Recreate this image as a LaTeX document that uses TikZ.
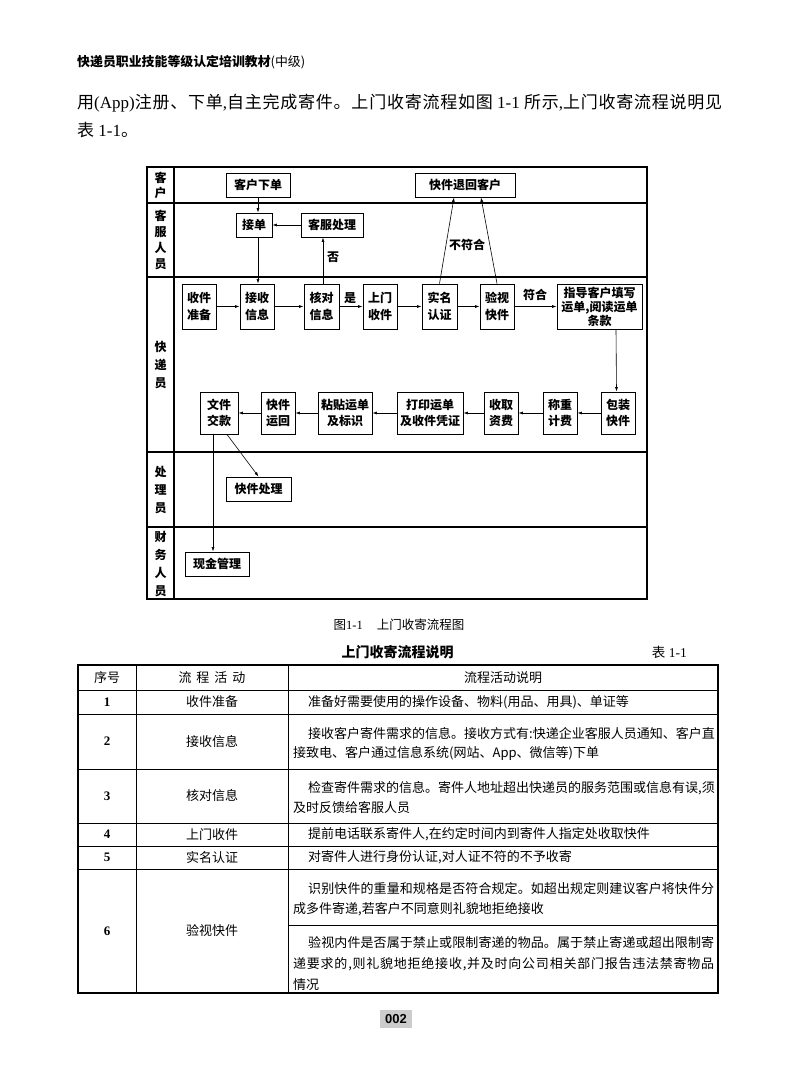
\documentclass[tikz,border=0pt]{standalone}
\usepackage{fontspec}
\setmainfont{Liberation Serif}
\newfontfamily\cjk{Noto Sans CJK SC}
\newfontfamily\pagenofont{Liberation Sans}
\usetikzlibrary{arrows.meta, positioning}
% stretch between CJK characters, switched on only inside \spreadline
\newXeTeXintercharclass\cjkclass
\newcount\cjkcnt
\cjkcnt="4E00
\loop
  \XeTeXcharclass\cjkcnt=\cjkclass
  \advance\cjkcnt 1
\ifnum\cjkcnt<"A000 \repeat
\XeTeXcharclass"3001=\cjkclass
\XeTeXcharclass"3002=\cjkclass
\XeTeXinterchartoks\cjkclass\cjkclass={\hskip 0pt plus 1fil}
\XeTeXinterchartoks\cjkclass 0={\hskip 0pt plus 1fil}
\XeTeXinterchartoks 0\cjkclass={\hskip 0pt plus 1fil}
\newcommand\lat[1]{{\rmfamily #1}}
\newcommand\spreadline[2]{\hbox to #1{\XeTeXinterchartokenstate=1 #2}}

\tikzset{
  lanebox/.style={font=\cjk\bfseries\fontsize{12}{#1}\selectfont, align=center, inner sep=0pt},
  lanebox/.default=18,
  proc/.style={draw, line width=0.9pt, align=center, inner sep=0pt,
    font=\cjk\bfseries\fontsize{12}{#1}\selectfont},
  proc/.default=17,
  dims/.style 2 args={minimum width=#1, minimum height=#2},
  flow/.style={line width=0.6pt, -{Latex[length=4.5pt,width=3pt]}},
  tag/.style={font=\cjk\bfseries\fontsize{12}{14}\selectfont, inner sep=0pt},
  hcell/.style={font=\cjk\fontsize{13}{16}\selectfont, inner sep=0pt},
  numcell/.style={font=\bfseries\fontsize{13}{16}\selectfont, inner sep=0pt},
  txt/.style={font=\cjk\fontsize{13}{16}\selectfont, inner sep=0pt, anchor=west}
}

\begin{document}
\begin{tikzpicture}[x=1pt, y=-1pt]
  \useasboundingbox (0,0) rectangle (790,1079);

  % running head and text
  \node[anchor=west, inner sep=0pt, font=\cjk\bfseries\fontsize{12.9}{14}\selectfont] (hdr) at (77,62)
    {快递员职业技能等级认定培训教材{\mdseries (中级)}};
  \node[anchor=west, inner sep=0pt, font=\cjk\fontsize{17}{20}\selectfont] (para1) at (77,103)
    {\spreadline{645pt}{用\lat{(App)}注册、下单\lat{,}自主完成寄件。上门收寄流程如图\lat{ 1-1 }所示\lat{,}上门收寄流程说明见}};
  \node[anchor=west, inner sep=0pt, font=\cjk\fontsize{17}{20}\selectfont] (para2) at (77,130)
    {表\lat{ 1-1}。};

  % swimlanes
  \draw[line width=1.3pt] (147,167) rectangle (647,599);
  \draw[line width=1.2pt] (174,167) -- (174,599);
  \foreach \y in {203,277,452,527}
    \draw[line width=1.2pt] (147,\y) -- (647,\y);

  \node[lanebox=15] (lkh) at (160.5,185) {客\\户};
  \node[lanebox=16] (lkf) at (160.5,240) {客\\服\\人\\员};
  \node[lanebox] (lkd) at (160.5,365) {快\\递\\员};
  \node[lanebox] (lcl) at (160.5,490) {处\\理\\员};
  \node[lanebox] (lcw) at (160.5,564) {财\\务\\人\\员};

  % customer and service lanes
  \node[proc, dims={64}{24}] (khxd) at (258,185) {客户下单};
  \node[proc, dims={100}{24}] (kjth) at (465,185) {快件退回客户};
  \node[proc, dims={36}{24}] (jd) at (254,225) {接单};
  \node[proc, dims={62}{24}] (kfcl) at (332,225) {客服处理};

  % courier lane, first row
  \node[proc, dims={34}{45}] (sjzb) at (199,306.5) {收件\\准备};
  \node[proc, dims={34}{45}] (jsxx) at (257,306.5) {接收\\信息};
  \node[proc, dims={35}{45}] (hdxx) at (321.5,306.5) {核对\\信息};
  \node[proc, dims={34}{45}] (smsj) at (380,306.5) {上门\\收件};
  \node[proc, dims={35}{45}] (smrz) at (439.5,306.5) {实名\\认证};
  \node[proc, dims={34}{45}] (ysjj) at (497,306.5) {验视\\快件};
  \node[proc=14, dims={85}{45}] (zdkh) at (599.5,306.5) {指导客户填写\\运单,阅读运单\\条款};

  % courier lane, second row
  \node[proc=16, dims={34}{42}] (bzkj) at (618,413) {包装\\快件};
  \node[proc=16, dims={34}{42}] (czjf) at (560,413) {称重\\计费};
  \node[proc=16, dims={34}{42}] (sqzf) at (501,413) {收取\\资费};
  \node[proc=16, dims={66}{42}] (dyyd) at (430,413) {打印运单\\及收件凭证};
  \node[proc=16, dims={54}{42}] (ztyd) at (345,413) {粘贴运单\\及标识};
  \node[proc=16, dims={34}{42}] (kjyh) at (278,413) {快件\\运回};
  \node[proc=16, dims={38}{42}] (wjjk) at (219,413) {文件\\交款};

  % handler and finance lanes
  \node[proc, dims={65}{24}] (kjcl) at (258.5,489) {快件处理};
  \node[proc, dims={64}{24}] (xjgl) at (217,564) {现金管理};

  % labels
  \node[tag] (shi) at (350,298) {是};
  \node[tag] (fuhe) at (535,295) {符合};
  \node[tag] (fou) at (333,257) {否};
  \node[tag] (bfh) at (467,245) {不符合};

  % connectors
  \draw[flow] (khxd.south) -- ([xshift=4pt]jd.north);
  \draw[flow] (kfcl.west) -- (jd.east);
  \draw[flow] ([xshift=4pt]jd.south) -- ([xshift=1pt]jsxx.north);
  \draw[flow] ([xshift=1.5pt]hdxx.north) -- ([xshift=-9pt]kfcl.south);
  \draw[flow] (smrz.north) -- ([xshift=-11pt]kjth.south);
  \draw[flow] (ysjj.north) -- ([xshift=16pt]kjth.south);
  \foreach \a/\b in {sjzb/jsxx, jsxx/hdxx, hdxx/smsj, smsj/smrz, smrz/ysjj, ysjj/zdkh}
    \draw[flow] (\a.east) -- (\b.west);
  \draw[flow] ([xshift=16.5pt]zdkh.south) -- ([xshift=-1.5pt]bzkj.north);
  \foreach \a/\b in {bzkj/czjf, czjf/sqzf, sqzf/dyyd, dyyd/ztyd, ztyd/kjyh, kjyh/wjjk}
    \draw[flow] (\a.west) -- (\b.east);
  \draw[flow] ([xshift=-6pt]wjjk.south) -- ([xshift=-4pt]xjgl.north);
  \draw[flow] ([xshift=8pt]wjjk.south) -- (kjcl.north);

  % captions
  \node[inner sep=0pt, font=\cjk\fontsize{12.5}{14}\selectfont] (cap) at (399,625)
    {图\lat{1-1}\hspace{14pt}上门收寄流程图};
  \node[inner sep=0pt, font=\cjk\bfseries\fontsize{14}{16}\selectfont] (ttl) at (397.5,652) {上门收寄流程说明};
  \node[anchor=east, inner sep=0pt, font=\cjk\fontsize{13.5}{16}\selectfont] (tno) at (687,652) {表\lat{ 1-1}};

  % table rules
  \draw[line width=1.4pt] (78,665) rectangle (718,993);
  \foreach \y in {690,714,769,823,846,869}
    \draw[line width=0.9pt] (78,\y) -- (718,\y);
  \draw[line width=0.9pt] (288,925) -- (718,925);
  \draw[line width=0.9pt] (136,665) -- (136,993);
  \draw[line width=0.9pt] (288,665) -- (288,993);

  % table head
  \node[hcell] (h1) at (107,677.5) {序号};
  \node[hcell] (h2) at (212,677.5) {流\hspace{5pt}程\hspace{5pt}活\hspace{5pt}动};
  \node[hcell] (h3) at (503,677.5) {流程活动说明};

  % numbers and activities
  \foreach \n/\y/\act in {1/702/收件准备, 2/741.5/接收信息, 3/796/核对信息,
      4/834.5/上门收件, 5/857.5/实名认证, 6/931/验视快件} {
    \node[numcell] (no\n) at (107,\y) {\n};
    \node[hcell] (act\n) at (212,\y) {\act};
  }

  % descriptions
  \node[txt] (d1) at (308,702) {准备好需要使用的操作设备、物料(用品、用具)、单证等};
  \node[txt] (d2a) at (308,733.5) {\spreadline{406pt}{接收客户寄件需求的信息。接收方式有:快递企业客服人员通知、客户直}};
  \node[txt] (d2b) at (293,753.5) {接致电、客户通过信息系统(网站、App、微信等)下单};
  \node[txt] (d3a) at (308,788) {\spreadline{406pt}{检查寄件需求的信息。寄件人地址超出快递员的服务范围或信息有误,须}};
  \node[txt] (d3b) at (293,808) {及时反馈给客服人员};
  \node[txt] (d4) at (308,834.5) {提前电话联系寄件人,在约定时间内到寄件人指定处收取快件};
  \node[txt] (d5) at (308,857.5) {对寄件人进行身份认证,对人证不符的不予收寄};
  \node[txt] (d6a) at (308,889) {\spreadline{406pt}{识别快件的重量和规格是否符合规定。如超出规定则建议客户将快件分}};
  \node[txt] (d6b) at (293,909) {成多件寄递,若客户不同意则礼貌地拒绝接收};
  \node[txt] (d6c) at (308,943) {\spreadline{406pt}{验视内件是否属于禁止或限制寄递的物品。属于禁止寄递或超出限制寄}};
  \node[txt] (d6d) at (293,964) {\spreadline{421pt}{递要求的,则礼貌地拒绝接收,并及时向公司相关部门报告违法禁寄物品}};
  \node[txt] (d6e) at (293,985) {情况};

  % folio
  \node[fill=gray!40, inner sep=0pt, dims={32}{18}, font=\pagenofont\bfseries\fontsize{13}{14}\selectfont] (pno) at (396,1019) {002};
\end{tikzpicture}
\end{document}
